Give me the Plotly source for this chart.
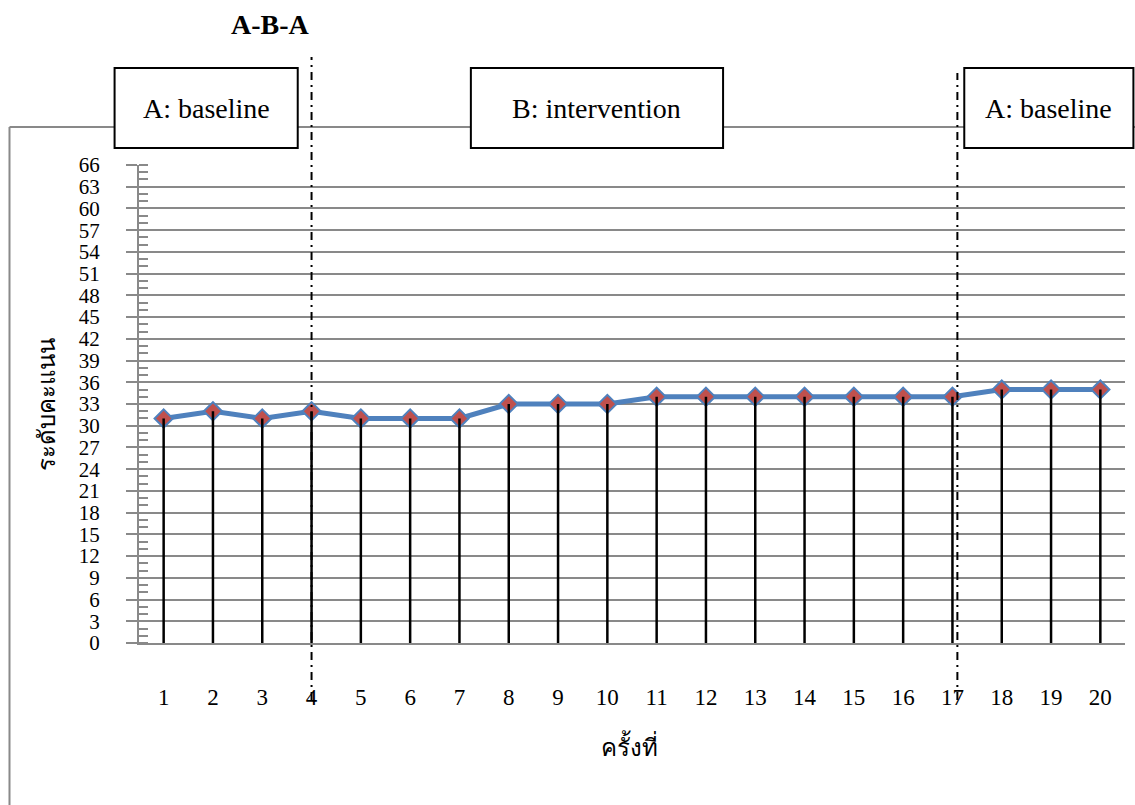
import plotly.graph_objects as go

# ---------------- data ----------------
sessions = list(range(1, 21))
scores = [31, 32, 31, 32, 31, 31, 31, 33, 33, 33, 34, 34, 34, 34, 34, 34, 34, 35, 35, 35]
y_ticks = list(range(0, 67, 3))
phase_labels = ["A: baseline", "B: intervention", "A: baseline"]
phase_changes = [4, 17.1]
title_text = "A-B-A"
x_title = "ครั้งที่"
y_title = "ระดับคะแนน"

# ---------------- layout geometry (pixels) ----------------
W, H = 1135, 805
L, R = 139.4, 1124.6
T, B = 165, 643
XR = [0.5, 20.5]
YR = [0, 66]

def px(x):
    return (x - L) / (R - L)

def py(y):
    return (B - y) / (B - T)

def data_to_paper_x(v):
    return (v - XR[0]) / (XR[1] - XR[0])

SERIF = "Liberation Serif"
THAI = "Liberation Serif"
GRAY = "#898989"

fig = go.Figure()

# main line with markers
fig.add_trace(go.Scatter(
    x=sessions, y=scores, mode="lines+markers",
    line=dict(color="#4F81BD", width=5),
    marker=dict(symbol="diamond", size=14, color="#C0504D",
                line=dict(color="#4F81BD", width=2)),
    showlegend=False, hoverinfo="x+y",
))

# drop lines
dx, dy = [], []
for s, v in zip(sessions, scores):
    dx += [s, s, None]
    dy += [0, v, None]
fig.add_trace(go.Scatter(
    x=dx, y=dy, mode="lines",
    line=dict(color="black", width=2.5),
    showlegend=False, hoverinfo="skip",
))

shapes = []
# outer chart frame (cut off at right and bottom)
shapes.append(dict(type="line", xref="paper", yref="paper",
                   x0=px(10), x1=px(10), y0=py(900), y1=py(127),
                   line=dict(color=GRAY, width=2)))
shapes.append(dict(type="line", xref="paper", yref="paper",
                   x0=px(10), x1=px(1200), y0=py(127), y1=py(127),
                   line=dict(color=GRAY, width=2)))

# phase-change lines
tops = [57, 73]
for c, t in zip(phase_changes, tops):
    xp = data_to_paper_x(c)
    shapes.append(dict(type="line", xref="paper", yref="paper",
                       x0=xp, x1=xp, y0=py(700), y1=py(t),
                       line=dict(color="black", width=2, dash="8px,5px,2px,5px")))

# phase label boxes
boxes = [(115, 298), (471, 723), (964, 1133)]
annotations = []
for (x0, x1), lab in zip(boxes, phase_labels):
    shapes.append(dict(type="rect", xref="paper", yref="paper",
                       x0=px(x0), x1=px(x1), y0=py(148), y1=py(68),
                       fillcolor="white", line=dict(color="black", width=2)))
    annotations.append(dict(xref="paper", yref="paper",
                            x=px((x0 + x1) / 2), y=py(109),
                            text=lab, showarrow=False,
                            font=dict(family=SERIF, size=28, color="black"),
                            xanchor="center", yanchor="middle"))

# title
annotations.append(dict(xref="paper", yref="paper", x=px(271), y=py(24),
                        text="<b>" + title_text + "</b>", showarrow=False,
                        font=dict(family=SERIF, size=28, color="black"),
                        xanchor="center", yanchor="middle"))
# axis titles
annotations.append(dict(xref="paper", yref="paper", x=px(47), y=py(404),
                        text=y_title, showarrow=False, textangle=-90,
                        font=dict(family=THAI, size=24, color="black"),
                        xanchor="center", yanchor="middle"))
annotations.append(dict(xref="paper", yref="paper", x=px(630), y=py(745),
                        text=x_title, showarrow=False,
                        font=dict(family=THAI, size=24, color="black"),
                        xanchor="center", yanchor="middle"))

fig.update_layout(
    width=W, height=H,
    margin=dict(l=L, r=W - R, t=T, b=H - B, pad=0),
    paper_bgcolor="white", plot_bgcolor="white",
    shapes=shapes, annotations=annotations,
    showlegend=False,
    font=dict(family=SERIF, color="black"),
    xaxis=dict(range=XR, tickmode="array", tickvals=sessions,
               ticktext=[str(s) for s in sessions],
               showgrid=False, zeroline=False,
               showline=True, linecolor=GRAY, linewidth=2,
               ticks="", ticklabelstandoff=32,
               tickfont=dict(family=SERIF, size=23, color="black"),
               fixedrange=True),
    yaxis=dict(range=YR, tickmode="array", tickvals=y_ticks,
               ticktext=[str(v) for v in y_ticks],
               showgrid=True, gridcolor=GRAY, gridwidth=2,
               zeroline=False, showline=True, linecolor=GRAY, linewidth=2,
               ticks="outside", ticklen=11, tickcolor=GRAY, tickwidth=2,
               ticklabelstandoff=22,
               minor=dict(dtick=1, ticks="inside", ticklen=9,
                          tickcolor=GRAY, tickwidth=2, showgrid=False),
               tickfont=dict(family=SERIF, size=21, color="black"),
               fixedrange=True),
)

fig.write_html("out.html")
